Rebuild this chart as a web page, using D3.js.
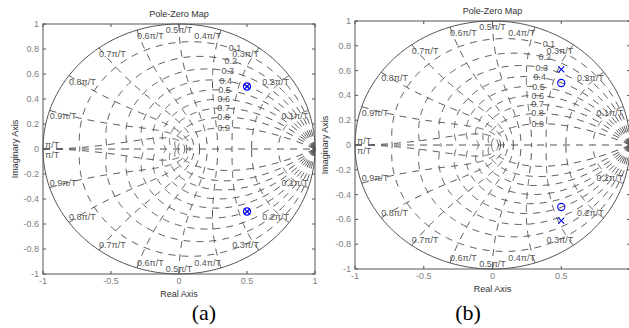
<!DOCTYPE html>
<html>
<head>
<meta charset="utf-8">
<script src="https://cdn.jsdelivr.net/npm/d3@7"></script>
<style>
  body { margin: 0; background: #fff; }
  svg { display: block; }
  text { font-family: "Liberation Sans", Arial, Helvetica, sans-serif; }
</style>
</head>
<body>
<svg id="chart"></svg>
<script>
var W = 629, H = 328;

// chart values
var zetaVals = [0.1, 0.2, 0.3, 0.4, 0.5, 0.6, 0.7, 0.8, 0.9];
var zetaLabels = ["0.1", "0.2", "0.3", "0.4", "0.5", "0.6", "0.7", "0.8", "0.9"];
var wnVals = [0.1, 0.2, 0.3, 0.4, 0.5, 0.6, 0.7, 0.8, 0.9, 1.0]; // times pi/T
var wnLabels = ["0.1\u03c0/T", "0.2\u03c0/T", "0.3\u03c0/T", "0.4\u03c0/T", "0.5\u03c0/T",
                "0.6\u03c0/T", "0.7\u03c0/T", "0.8\u03c0/T", "0.9\u03c0/T", "\u03c0/T"];
var zetaLabelWn = 0.35; // zeta labels sit on their curve at wn = 0.35 pi/T
var xTicks = [-1, -0.5, 0, 0.5, 1];
var yTicks = [-1, -0.8, -0.6, -0.4, -0.2, 0, 0.2, 0.4, 0.6, 0.8, 1];
var polesA = [[0.5, 0.5], [0.5, -0.5]];
var zerosA = [[0.5, 0.5], [0.5, -0.5]];
var polesB = [[0.5, 0.61], [0.5, -0.61]];
var zerosB = [[0.5, 0.5], [0.5, -0.5]];

var gridColor = "#555";
var blue = "#0000ff";

var svg = d3.select("#chart").attr("width", W).attr("height", H);

function zetaPoint(zeta, wn) {
  // z = exp(s), s = wn*(-zeta + j*sqrt(1-zeta^2))
  var r = Math.exp(-zeta * wn);
  var th = wn * Math.sqrt(1 - zeta * zeta);
  return [r * Math.cos(th), r * Math.sin(th)];
}

function drawPanel(p) {
  var x = d3.scaleLinear().domain([-1, 1]).range([p.left, p.right]);
  var y = d3.scaleLinear().domain([-1, 1]).range([p.bottom, p.top]);
  var g = svg.append("g");
  var line = d3.line().x(function(d) { return x(d[0]); }).y(function(d) { return y(d[1]); });

  // unit circle
  var circ = d3.range(0, 361, 2).map(function(a) {
    var t = a * Math.PI / 180; return [Math.cos(t), Math.sin(t)];
  });
  g.append("path").attr("d", line(circ)).attr("fill", "none")
    .attr("stroke", gridColor).attr("stroke-width", 1);

  var dash = "7,6";
  // damping curves
  zetaVals.forEach(function(z) {
    var thMax = Math.PI;
    var k = z / Math.sqrt(1 - z * z);
    [1, -1].forEach(function(sgn) {
      var pts = d3.range(0, 201).map(function(i) {
        var th = thMax * i / 200, r = Math.exp(-k * th);
        return [r * Math.cos(th), sgn * r * Math.sin(th)];
      });
      g.append("path").attr("d", line(pts)).attr("fill", "none")
        .attr("stroke", gridColor).attr("stroke-width", 1).attr("stroke-dasharray", dash);
    });
  });
  // natural frequency curves
  wnVals.forEach(function(w) {
    var wn = w * Math.PI;
    [1, -1].forEach(function(sgn) {
      var pts = d3.range(0, 101).map(function(i) {
        var pt = zetaPoint(i / 100, wn);
        return [pt[0], sgn * pt[1]];
      });
      g.append("path").attr("d", line(pts)).attr("fill", "none")
        .attr("stroke", gridColor).attr("stroke-width", 1).attr("stroke-dasharray", dash);
    });
  });
  // real axis
  g.append("path").attr("d", line([[-1, 0], [1, 0]])).attr("fill", "none")
    .attr("stroke", gridColor).attr("stroke-width", 1).attr("stroke-dasharray", dash);

  // zeta labels
  zetaVals.forEach(function(z, i) {
    var pt = zetaPoint(z, zetaLabelWn * Math.PI);
    g.append("text").attr("x", x(pt[0])).attr("y", y(pt[1]) + 3 - (i === 0 ? 2 : 0))
      .attr("text-anchor", "middle").attr("font-size", 9).attr("fill", "#555")
      .text(zetaLabels[i]);
  });
  // wn labels
  wnVals.forEach(function(w, i) {
    var t = w * Math.PI;
    var px = x(Math.cos(t)), py = y(Math.sin(t)), pyl = y(-Math.sin(t));
    var anchor = w < 0.5 ? "end" : (w === 0.5 ? "middle" : "start");
    if (w === 1.0) {
      g.append("text").attr("x", px + 2).attr("y", py - 1).attr("font-size", 9)
        .attr("fill", "#555").text(wnLabels[i]);
      g.append("text").attr("x", px + 2).attr("y", py + 9).attr("font-size", 9)
        .attr("fill", "#555").text(wnLabels[i]);
    } else {
      g.append("text").attr("x", px).attr("y", py + 9).attr("text-anchor", anchor)
        .attr("font-size", 9).attr("fill", "#555").text(wnLabels[i]);
      g.append("text").attr("x", px).attr("y", pyl - 2).attr("text-anchor", anchor)
        .attr("font-size", 9).attr("fill", "#555").text(wnLabels[i]);
    }
  });

  // markers
  p.zeros.forEach(function(d) {
    g.append("circle").attr("cx", x(d[0])).attr("cy", y(d[1])).attr("r", 3.6)
      .attr("fill", "none").attr("stroke", blue).attr("stroke-width", 1.1);
  });
  p.poles.forEach(function(d) {
    var cx = x(d[0]), cy = y(d[1]), s = 3;
    g.append("path").attr("d", "M" + (cx - s) + "," + (cy - s) + "L" + (cx + s) + "," + (cy + s) +
      "M" + (cx - s) + "," + (cy + s) + "L" + (cx + s) + "," + (cy - s))
      .attr("stroke", blue).attr("stroke-width", 1.1);
  });

  // axes box and ticks
  g.append("rect").attr("x", p.left).attr("y", p.top)
    .attr("width", p.right - p.left).attr("height", p.bottom - p.top)
    .attr("fill", "none").attr("stroke", "#555").attr("stroke-width", 1);
  xTicks.forEach(function(v) {
    g.append("line").attr("x1", x(v)).attr("x2", x(v)).attr("y1", p.bottom).attr("y2", p.bottom - 3)
      .attr("stroke", "#555");
    g.append("line").attr("x1", x(v)).attr("x2", x(v)).attr("y1", p.top).attr("y2", p.top + 3)
      .attr("stroke", "#555");
    if (x(v) < W - 4) {
      g.append("text").attr("x", x(v)).attr("y", p.bottom + 10).attr("text-anchor", "middle")
        .attr("font-size", 9).attr("fill", "#808080").text(String(v));
    }
  });
  yTicks.forEach(function(v) {
    g.append("line").attr("x1", p.left).attr("x2", p.left + 3).attr("y1", y(v)).attr("y2", y(v))
      .attr("stroke", "#555");
    g.append("line").attr("x1", p.right).attr("x2", p.right - 3).attr("y1", y(v)).attr("y2", y(v))
      .attr("stroke", "#555");
    g.append("text").attr("x", p.left - 4).attr("y", y(v) + 3).attr("text-anchor", "end")
      .attr("font-size", 9).attr("fill", "#808080").text(String(+v.toFixed(1)));
  });

  // titles
  var cx = (p.left + p.right) / 2;
  g.append("text").attr("x", cx).attr("y", p.top - 7).attr("text-anchor", "middle")
    .attr("font-size", 9).attr("fill", "#333").text("Pole-Zero Map");
  g.append("text").attr("x", cx).attr("y", p.bottom + 23).attr("text-anchor", "middle")
    .attr("font-size", 9).attr("fill", "#333").text("Real Axis");
  g.append("text").attr("transform", "translate(" + p.ylabX + "," + ((p.top + p.bottom) / 2) + ") rotate(-90)")
    .attr("text-anchor", "middle").attr("font-size", 9).attr("fill", "#333").text("Imaginary Axis");
  svg.append("text").attr("x", p.capX).attr("y", 320).attr("text-anchor", "middle")
    .style("font-family", "'Liberation Serif', 'Times New Roman', serif")
    .attr("font-size", 22).attr("fill", "#000").text(p.caption);
}

drawPanel({ left: 43, right: 315, top: 24, bottom: 274, ylabX: 18, capX: 204,
            poles: polesA, zeros: zerosA, caption: "(a)" });
drawPanel({ left: 355, right: 630, top: 21, bottom: 269, ylabX: 328, capX: 468,
            poles: polesB, zeros: zerosB, caption: "(b)" });
</script>
</body>
</html>
